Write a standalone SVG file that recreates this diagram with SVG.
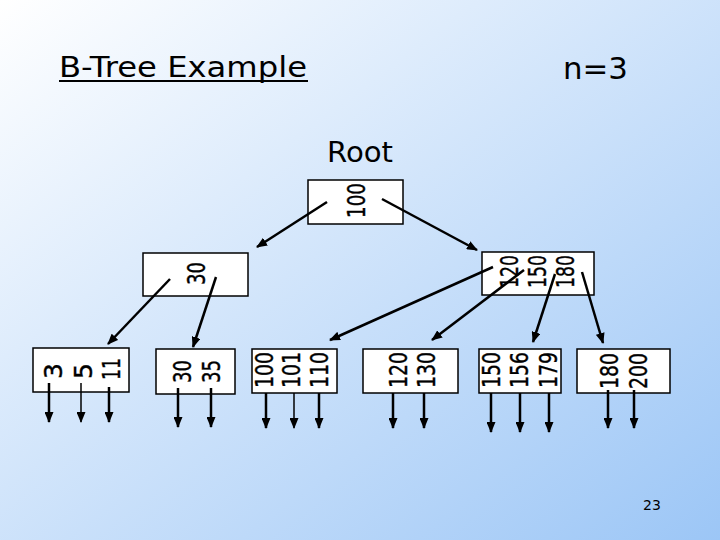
<svg xmlns="http://www.w3.org/2000/svg" width="720" height="540" viewBox="0 0 720 540">
<defs>
<linearGradient id="bg" x1="0" y1="0" x2="1" y2="1">
<stop offset="0" stop-color="#ffffff"/>
<stop offset="1" stop-color="#9cc6f6"/>
</linearGradient>
<marker id="ah" markerUnits="userSpaceOnUse" markerWidth="11" markerHeight="9" refX="10" refY="4.5" orient="auto">
<path d="M0,0 L11,4.5 L0,9 z" fill="#000"/>
</marker>
</defs>
<style>
.box{fill:#fff;stroke:#000;stroke-width:1.5}
.k{font-family:"DejaVu Sans",Verdana,sans-serif;font-size:25px;fill:#000;text-anchor:middle;stroke:#000;stroke-width:0.4}
.t{font-family:"DejaVu Sans",Verdana,sans-serif;fill:#000}
.c{stroke:#000;stroke-width:2.5;fill:none;marker-end:url(#ah)}
.thin{stroke-width:1.5}
</style>
<rect width="720" height="540" fill="url(#bg)"/>
<text class="t" x="59" y="77" font-size="28" textLength="248" lengthAdjust="spacingAndGlyphs">B-Tree Example</text>
<line x1="59" y1="81" x2="308" y2="81" stroke="#000" stroke-width="2"/>
<text class="t" x="563" y="79" font-size="31" textLength="65" lengthAdjust="spacingAndGlyphs">n=3</text>
<text class="t" x="327" y="162" font-size="29" textLength="66" lengthAdjust="spacingAndGlyphs">Root</text>
<text class="t" x="652" y="510" font-size="14" text-anchor="middle" fill="#111133">23</text>

<g id="root"><rect class="box" x="308" y="180" width="95" height="44"/>
<text class="k" transform="translate(365,200.5) rotate(-90)" textLength="35" lengthAdjust="spacingAndGlyphs">100</text></g>
<g id="n30"><rect class="box" x="143" y="253" width="105" height="43"/>
<text class="k" transform="translate(205,273.5) rotate(-90)" textLength="23" lengthAdjust="spacingAndGlyphs">30</text></g>
<g id="n120"><rect class="box" x="482" y="252" width="112" height="43"/>
<text class="k" transform="translate(518,271.5) rotate(-90)" textLength="33" lengthAdjust="spacingAndGlyphs">120</text>
<text class="k" transform="translate(546,271.5) rotate(-90)" textLength="33" lengthAdjust="spacingAndGlyphs">150</text>
<text class="k" transform="translate(574,271.5) rotate(-90)" textLength="33" lengthAdjust="spacingAndGlyphs">180</text></g>

<g id="leaf1"><rect class="box" x="33" y="348" width="96" height="44"/>
<text class="k" transform="translate(62,371) rotate(-90)">3</text>
<text class="k" transform="translate(92,371) rotate(-90)">5</text>
<text class="k" transform="translate(120,369) rotate(-90)" textLength="22" lengthAdjust="spacingAndGlyphs">11</text></g>
<g id="leaf2"><rect class="box" x="156" y="349" width="79" height="45"/>
<text class="k" transform="translate(191,371.5) rotate(-90)" textLength="23" lengthAdjust="spacingAndGlyphs">30</text>
<text class="k" transform="translate(220,371.5) rotate(-90)" textLength="23" lengthAdjust="spacingAndGlyphs">35</text></g>
<g id="leaf3"><rect class="box" x="252" y="349" width="85" height="44"/>
<text class="k" transform="translate(273,370) rotate(-90)" textLength="36" lengthAdjust="spacingAndGlyphs">100</text>
<text class="k" transform="translate(300,370) rotate(-90)" textLength="36" lengthAdjust="spacingAndGlyphs">101</text>
<text class="k" transform="translate(328,370) rotate(-90)" textLength="36" lengthAdjust="spacingAndGlyphs">110</text></g>
<g id="leaf4"><rect class="box" x="363" y="349" width="95" height="44"/>
<text class="k" transform="translate(407,370) rotate(-90)" textLength="36" lengthAdjust="spacingAndGlyphs">120</text>
<text class="k" transform="translate(435,370) rotate(-90)" textLength="36" lengthAdjust="spacingAndGlyphs">130</text></g>
<g id="leaf5"><rect class="box" x="479" y="349" width="82" height="44"/>
<text class="k" transform="translate(500,370) rotate(-90)" textLength="36" lengthAdjust="spacingAndGlyphs">150</text>
<text class="k" transform="translate(528,370) rotate(-90)" textLength="36" lengthAdjust="spacingAndGlyphs">156</text>
<text class="k" transform="translate(557,370) rotate(-90)" textLength="36" lengthAdjust="spacingAndGlyphs">179</text></g>
<g id="leaf6"><rect class="box" x="577" y="349" width="93" height="44"/>
<text class="k" transform="translate(618,371) rotate(-90)" textLength="36" lengthAdjust="spacingAndGlyphs">180</text>
<text class="k" transform="translate(647,371) rotate(-90)" textLength="36" lengthAdjust="spacingAndGlyphs">200</text></g>

<g id="connectors">
<line class="c" x1="327" y1="202" x2="257" y2="247"/>
<line class="c" x1="382" y1="199" x2="477" y2="250"/>
<line class="c" x1="170" y1="279" x2="108" y2="344"/>
<line class="c" x1="216" y1="277" x2="193" y2="347"/>
<line class="c" x1="493" y1="267" x2="330" y2="340"/>
<line class="c" x1="524" y1="270" x2="432" y2="340"/>
<line class="c" x1="555" y1="274" x2="533" y2="342"/>
<line class="c" x1="582" y1="272" x2="603" y2="343"/>
<line class="c" x1="49" y1="383" x2="49" y2="422"/>
<line class="c thin" x1="81" y1="383" x2="81" y2="422"/>
<line class="c" x1="109" y1="387" x2="109" y2="422"/>
<line class="c" x1="178" y1="388" x2="178" y2="427"/>
<line class="c" x1="211" y1="388" x2="211" y2="427"/>
<line class="c" x1="266" y1="393" x2="266" y2="428"/>
<line class="c thin" x1="294" y1="393" x2="294" y2="428"/>
<line class="c" x1="319" y1="393" x2="319" y2="428"/>
<line class="c" x1="393" y1="393" x2="393" y2="428"/>
<line class="c" x1="424" y1="393" x2="424" y2="428"/>
<line class="c" x1="491" y1="393" x2="491" y2="432"/>
<line class="c" x1="520" y1="393" x2="520" y2="432"/>
<line class="c" x1="549" y1="393" x2="549" y2="432"/>
<line class="c" x1="608" y1="390" x2="608" y2="428"/>
<line class="c" x1="634" y1="390" x2="634" y2="428"/>
</g>
</svg>
